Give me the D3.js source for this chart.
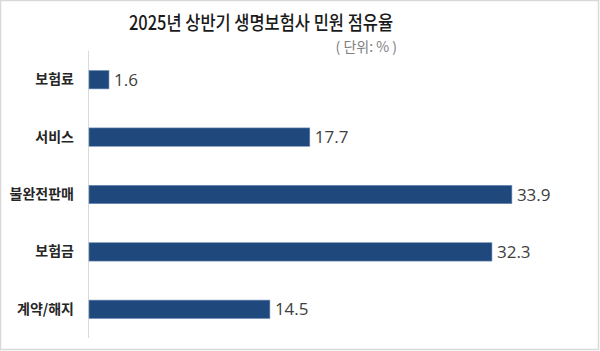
<!DOCTYPE html>
<html>
<head>
<meta charset="utf-8">
<script src="https://cdn.jsdelivr.net/npm/d3@7"></script>
<style>
  body { margin: 0; background: #fff; }
  text { font-family: "Noto Sans CJK KR", "Noto Sans", sans-serif; }
</style>
</head>
<body>
<div id="chart"></div>
<script>
// data
const categories = ["보험료", "서비스", "불완전판매", "보험금", "계약/해지"];
const shares = [1.6, 17.7, 33.9, 32.3, 14.5];
const titleText = "2025년 상반기 생명보험사 민원 점유율";
const unitText = "( 단위: % )";

const width = 600, height = 351;
const margin = {top: 51, right: 12, bottom: 13, left: 89};

const svg = d3.select("#chart").append("svg")
    .attr("width", width)
    .attr("height", height);

// frame
svg.append("rect")
    .attr("x", 0.5).attr("y", 0.5)
    .attr("width", width - 2).attr("height", height - 2)
    .attr("fill", "#fff")
    .attr("stroke", "#d9d9d9")
    .attr("stroke-width", 1.5);

const g = svg.append("g")
    .attr("transform", `translate(${margin.left}, ${margin.top})`);

const innerW = width - margin.left - margin.right;
const innerH = height - margin.top - margin.bottom;

// scales
const x = d3.scaleLinear()
    .domain([0, 40])
    .range([0, innerW]);

const y = d3.scaleBand()
    .domain(categories)
    .range([0, innerH])
    .paddingInner(0.68)
    .paddingOuter(0.34);

// title
svg.append("text")
    .attr("x", 261)
    .attr("y", 30)
    .attr("text-anchor", "middle")
    .attr("font-size", 19.5)
    .attr("font-weight", 500)
    .attr("fill", "#1a1a1a")
    .attr("textLength", 264)
    .attr("lengthAdjust", "spacingAndGlyphs")
    .text(titleText);

svg.append("text")
    .attr("x", 397)
    .attr("y", 52)
    .attr("text-anchor", "end")
    .attr("font-size", 14)
    .attr("fill", "#808080")
    .text(unitText);

// y axis
const yAxis = g.append("g")
    .attr("class", "axis y-axis")
    .call(d3.axisLeft(y).tickSize(0).tickPadding(15));

yAxis.select(".domain")
    .attr("stroke", "#d9d9d9")
    .attr("d", `M-0.5,0V${innerH}`);

yAxis.selectAll("text")
    .attr("font-size", 14)
    .attr("font-weight", "bold")
    .attr("fill", "#262626")
    .style("font-family", '"Noto Sans CJK KR", sans-serif');

// bars
const rows = categories.map((c, i) => ({cat: c, val: shares[i]}));

g.selectAll(".bar")
    .data(rows)
    .enter().append("rect")
    .attr("class", "bar")
    .attr("x", 0)
    .attr("y", d => y(d.cat))
    .attr("width", d => x(d.val))
    .attr("height", y.bandwidth())
    .attr("fill", "#1F497D")
    .attr("stroke", "#6f8db5")
    .attr("stroke-width", 0.6);

// value labels
g.selectAll(".val")
    .data(rows)
    .enter().append("text")
    .attr("class", "val")
    .attr("x", d => x(d.val) + 5)
    .attr("y", d => y(d.cat) + y.bandwidth() / 2)
    .attr("dy", "0.36em")
    .attr("font-size", 17)
    .attr("fill", "#404040")
    .style("font-family", '"Open Sans", "Noto Sans", sans-serif')
    .text(d => d3.format(".1f")(d.val));
</script>
</body>
</html>
